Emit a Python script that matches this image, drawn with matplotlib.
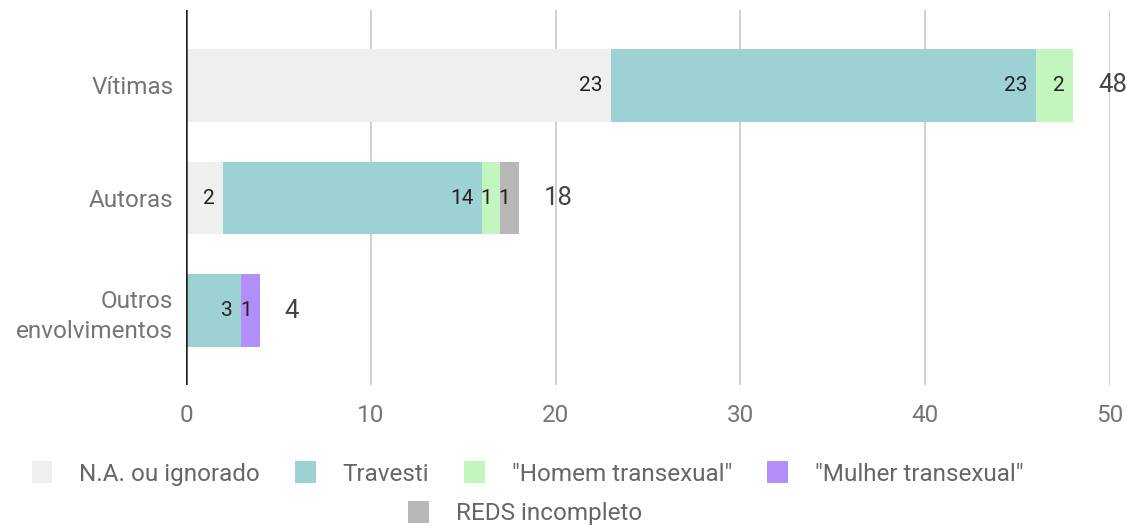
import matplotlib.pyplot as plt
from matplotlib.patches import Patch

plt.rcParams['font.family'] = ['Roboto', 'DejaVu Sans']

categories = ["Vítimas", "Autoras", "Outros\nenvolvimentos"]
series_names = ["N.A. ou ignorado", "Travesti", '"Homem transexual"',
                '"Mulher transexual"', "REDS incompleto"]
na_ignorado = [23, 2, 0]
travesti = [23, 14, 3]
homem_trans = [2, 1, 0]
mulher_trans = [0, 0, 1]
reds_incompleto = [0, 1, 0]
series = [na_ignorado, travesti, homem_trans, mulher_trans, reds_incompleto]
colors = ["#efefef", "#9ed1d4", "#c3f6bf", "#b18ef8", "#b7b7b7"]

fig = plt.figure(figsize=(11.27, 5.26), dpi=100)
ax = fig.add_axes([0.165, 0.268, 0.82, 0.713])

ypos = list(range(len(categories)))
left = [0] * len(categories)
for vals, name, col in zip(series, series_names, colors):
    ax.barh(ypos, vals, left=left, height=0.646, color=col, label=name, zorder=2)
    for i, v in enumerate(vals):
        if v > 0:
            ax.text(left[i] + v - 0.45, ypos[i], str(v), ha='right', va='center',
                    fontsize=15, color='#222222', zorder=3)
    left = [l + v for l, v in zip(left, vals)]

for i, tot in enumerate(left):
    ax.text(tot + 1.35, ypos[i], str(tot), ha='left', va='center',
            fontsize=18.5, color='#444444')

ax.set_xlim(0, 50)
ax.set_ylim(2.66, -0.67)
ax.set_xticks(range(0, 51, 10))
ax.set_yticks(ypos)
ax.set_yticklabels(categories, fontsize=17.5, color='#757575', linespacing=1.35)
ax.tick_params(axis='x', labelsize=17.5, labelcolor='#757575', length=0, pad=14)
ax.tick_params(axis='y', length=0, pad=9)
ax.grid(axis='x', color='#cccccc', linewidth=1.3, zorder=0)
ax.axvline(0, color='#222222', linewidth=1.8, zorder=4)
for s in ax.spines.values():
    s.set_visible(False)

handles = [Patch(facecolor=c, edgecolor='none') for c in colors]
fig.legend(handles[:4], series_names[:4], loc='center', ncol=4,
           bbox_to_anchor=(0.468, 0.1), frameon=False, fontsize=17.5,
           handlelength=0.85, handleheight=1.0, handletextpad=1.1,
           columnspacing=1.45, labelcolor='#666666')
fig.legend(handles[4:], series_names[4:], loc='center',
           bbox_to_anchor=(0.466, 0.025), frameon=False, fontsize=17.5,
           handlelength=0.85, handleheight=1.0, handletextpad=1.1,
           labelcolor='#666666')

fig.savefig("out.png", dpi=100)
